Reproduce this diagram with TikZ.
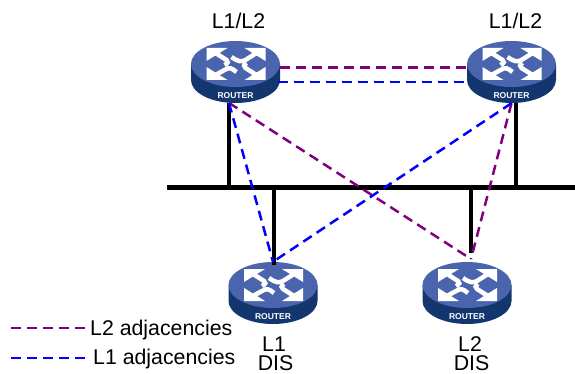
\documentclass[tikz,border=0pt]{standalone}
\usepackage{fontspec}
\setmainfont{Liberation Sans}
\usetikzlibrary{shapes.geometric}
\definecolor{routertop}{HTML}{4A65AD}
\definecolor{routerside}{HTML}{13366F}
\definecolor{ltwo}{HTML}{800080}
\definecolor{lone}{HTML}{0000FF}
\tikzset{
    routernode/.style={shape=ellipse,minimum width=89pt,minimum height=62pt,inner sep=0pt},
    lan/.style={line width=4pt,black},
    ltwoadj/.style={line width=2.5pt,ltwo,dash pattern=on 10pt off 6pt},
    loneadj/.style={line width=2.5pt,lone,dash pattern=on 10pt off 6pt},
    lab/.style={font=\fontsize{21.3}{21}\selectfont,inner sep=0pt},
    stem/.style={line width=4.5pt,white}
}
\newcommand{\router}[2]{
    \node[routernode] (#1) at (#2) {};
    \begin{scope}[shift={(#2)}]
        \fill[routerside] (-44.5,-8) -- (-44.5,8) arc[start angle=180,end angle=0,x radius=44.5,y radius=23] -- (44.5,-8) -- cycle;
        \fill[routertop] (0,-8) ellipse[x radius=44.5,y radius=23];
        % the four arrows
        \fill[white] (-29,-24) -- (-8,-24) -- (-29,-11) -- cycle;
        \fill[white] (30,-24) -- (9,-24) -- (30,-11) -- cycle;
        \fill[white] (-29,8) -- (-8,8) -- (-29,-5) -- cycle;
        \fill[white] (30,8) -- (9,8) -- (30,-5) -- cycle;
        \draw[stem] (-20,-19) -- (-9,-12) .. controls (-7,-10.5) and (-7,-9) .. (-11,-7);
        \draw[stem] (-20,3) -- (-11,-2) .. controls (-6,-5) and (-4,-4) .. (1,0);
        \draw[stem] (21,-19) -- (10,-12) .. controls (6,-10) and (3,-10) .. (-4,-15);
        \draw[stem] (21,3) -- (10,-4) .. controls (8,-5.5) and (8,-7) .. (11,-9);
        \node[font=\bfseries\fontsize{8.5}{9}\selectfont,text=white,inner sep=0pt] (#1name) at (0,24) {ROUTER};
    \end{scope}
}
\begin{document}
\begin{tikzpicture}[x=1pt,y=-1pt]
    \useasboundingbox (0,0) rectangle (575,374);

    \coordinate (busl) at (167,187.5);
    \coordinate (busr) at (575,187.5);
    \coordinate (drbar) at (470.5,253);
    \coordinate (drjoin) at (471,259);
    \coordinate (dlbar) at (273.5,265);

    \router{lt}{235.5,72}
    \router{rt}{511.5,72}
    \router{dl}{273,293}
    \router{dr}{467,293}

    \draw[lan] (busl) -- (busr);
    \draw[lan] (lt.-102) -- (lt.-102 |- busl);
    \draw[lan] (rt.-82) -- (rt.-82 |- busl);
    \draw[lan] (dlbar) -- (dlbar |- busl);
    \draw[lan] (drbar) -- (drbar |- busl);

    \draw[ltwoadj] (lt.6) -- (rt.174);
    \draw[loneadj] (lt.-13) -- (rt.-167);
    \draw[ltwoadj] (lt.-102) -- (drjoin);
    \draw[ltwoadj] (rt.south) -- (drjoin);
    \draw[loneadj] (lt.-102) -- (dl.north);
    \draw[loneadj] (rt.south) -- (dl.north);

    \node[lab] (ltlab) at (238.5,20.5) {L1/L2};
    \node[lab] (rtlab) at (515.5,20.5) {L1/L2};
    \node[lab] (dllab) at (274,344) {L1};
    \node[lab] (dldis) at (275.5,363.5) {DIS};
    \node[lab] (drlab) at (470,344) {L2};
    \node[lab] (drdis) at (471.5,363.5) {DIS};

    \coordinate (ltwoa) at (11,328);
    \coordinate (ltwob) at (86,328);
    \coordinate (lonea) at (11,358);
    \coordinate (loneb) at (86,358);
    \draw[ltwoadj] (ltwoa) -- (ltwob);
    \draw[loneadj] (lonea) -- (loneb);
    \node[lab,anchor=base west] (ltwotxt) at (90,335) {L2 adjacencies};
    \node[lab,anchor=base west] (lonetxt) at (93,364) {L1 adjacencies};
\end{tikzpicture}
\end{document}
